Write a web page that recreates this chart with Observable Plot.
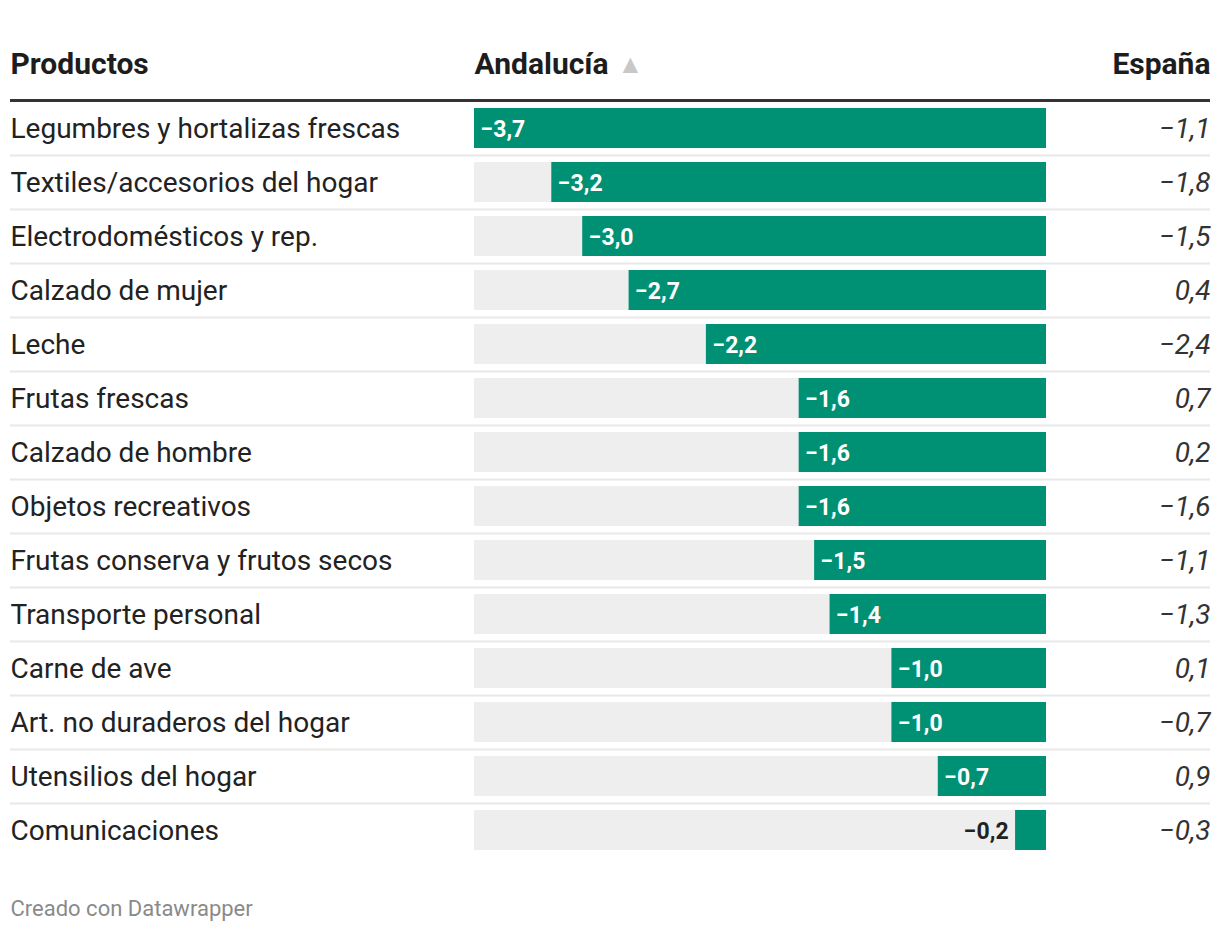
<!DOCTYPE html>
<html><head><meta charset="utf-8">
<script src="https://cdn.jsdelivr.net/npm/d3@7"></script>
<script src="https://cdn.jsdelivr.net/npm/@observablehq/plot@0.6"></script>
<style>
body{margin:0;background:#fff;}
#chart svg{display:block;}
</style>
</head><body><div id="chart"></div>
<script>
const products = [
  "Legumbres y hortalizas frescas",
  "Textiles/accesorios del hogar",
  "Electrodomésticos y rep.",
  "Calzado de mujer",
  "Leche",
  "Frutas frescas",
  "Calzado de hombre",
  "Objetos recreativos",
  "Frutas conserva y frutos secos",
  "Transporte personal",
  "Carne de ave",
  "Art. no duraderos del hogar",
  "Utensilios del hogar",
  "Comunicaciones"
];
const andalucia = [-3.7, -3.2, -3.0, -2.7, -2.2, -1.6, -1.6, -1.6, -1.5, -1.4, -1.0, -1.0, -0.7, -0.2];
const espana = [-1.1, -1.8, -1.5, 0.4, -2.4, 0.7, 0.2, -1.6, -1.1, -1.3, 0.1, -0.7, 0.9, -0.3];
const headers = ["Productos", "Andalucía", "España"];
const sortMark = "▲";
const credit = "Creado con Datawrapper";

const fmt = v => (v < 0 ? "\u2212" : "") + Math.abs(v).toFixed(1).replace(".", ",");
const rows = products.map((p, i) => ({product: p, and: andalucia[i], esp: espana[i], inside: Math.abs(andalucia[i]) >= 0.5}));
const xMin = d3.min(andalucia);
const first = [rows[0]];

const chart = Plot.plot({
  width: 1220,
  height: 932,
  marginLeft: 10,
  marginRight: 10,
  marginTop: 0,
  marginBottom: 0,
  style: {fontFamily: "Roboto, sans-serif", background: "#fff", overflow: "visible"},
  x: {domain: [xMin, 0], range: [474, 1046], axis: null},
  y: {domain: products, range: [101, 857], paddingInner: 14 / 54, paddingOuter: 7 / 54, axis: null},
  marks: [
    Plot.barX(rows, {y: "product", x1: () => xMin, x2: () => 0, fill: "#eeeeee"}),
    Plot.barX(rows, {y: "product", x1: "and", x2: () => 0, fill: "#009175"}),
    Plot.ruleY(rows.slice(0, -1), {y: "product", dy: 27, stroke: "#e8e8e8", strokeWidth: 2}),
    Plot.ruleY(first, {y: "product", dy: -28, stroke: "#333333", strokeWidth: 3}),
    Plot.text(rows.filter(d => d.inside), {y: "product", x: "and", text: d => fmt(d.and), dx: 6, dy: 1, textAnchor: "start", fill: "#ffffff", fontWeight: 700, fontSize: 23}),
    Plot.text(rows.filter(d => !d.inside), {y: "product", x: "and", text: d => fmt(d.and), dx: -7, dy: 1, textAnchor: "end", fill: "#222222", fontWeight: 700, fontSize: 23}),
    Plot.text(rows, {y: "product", frameAnchor: "left", text: "product", dy: 1, textAnchor: "start", fill: "#222222", fontSize: 28}),
    Plot.text(rows, {y: "product", frameAnchor: "right", text: d => fmt(d.esp), dy: 1, textAnchor: "end", fill: "#333333", fontSize: 28, fontStyle: "italic"}),
    Plot.text(first, {y: "product", frameAnchor: "left", text: () => headers[0], dy: -64, textAnchor: "start", fill: "#1d1d1d", fontWeight: 700, fontSize: 30}),
    Plot.text(first, {y: "product", x: () => xMin, text: () => headers[1], dy: -64, textAnchor: "start", fill: "#1d1d1d", fontWeight: 700, fontSize: 30}),
    Plot.text(first, {y: "product", x: () => xMin, text: () => sortMark, dx: 143, dy: -64, textAnchor: "start", fill: "#c8c8c8", fontSize: 26}),
    Plot.text(first, {y: "product", frameAnchor: "right", text: () => headers[2], dy: -64, textAnchor: "end", fill: "#1d1d1d", fontWeight: 700, fontSize: 30}),
    Plot.text([credit], {frameAnchor: "bottom-left", text: d => d, dy: -17, textAnchor: "start", fill: "#8a8a8a", fontSize: 22})
  ]
});
document.getElementById("chart").append(chart);
</script>
</body></html>
